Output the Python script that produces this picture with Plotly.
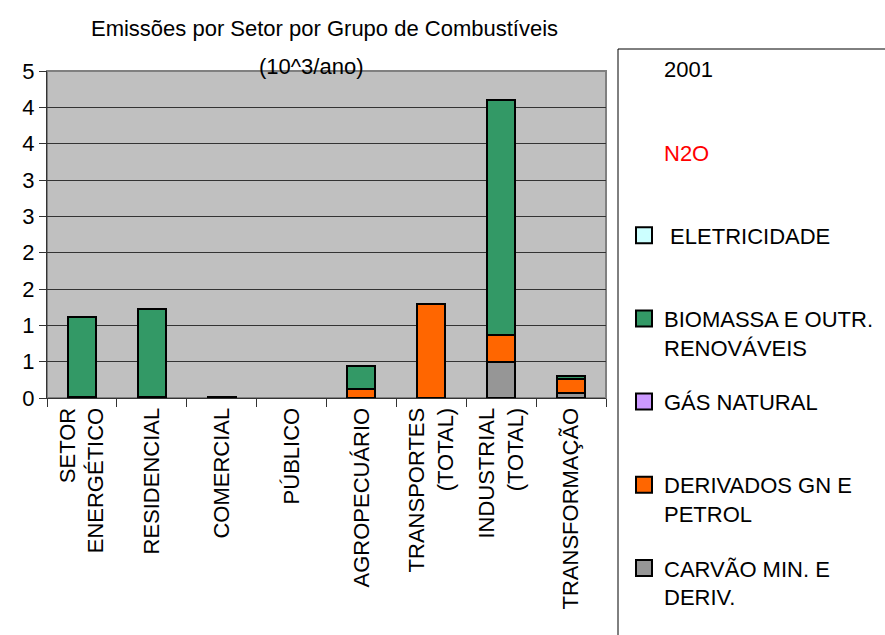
import plotly.graph_objects as go

categories = ["SETOR<br>ENERGÉTICO", "RESIDENCIAL", "COMERCIAL", "PÚBLICO",
              "AGROPECUÁRIO", "TRANSPORTES<br>(TOTAL)", "INDUSTRIAL<br>(TOTAL)", "TRANSFORMAÇÃO"]

carvao = [0, 0, 0, 0, 0, 0, 0.50, 0.07]
derivados = [0.02, 0.02, 0.02, 0, 0.13, 1.29, 0.37, 0.19]
gas_natural = [0, 0, 0, 0, 0, 0, 0, 0]
biomassa = [1.10, 1.20, 0, 0, 0.31, 0, 3.23, 0.04]
eletricidade = [0, 0, 0, 0, 0, 0, 0, 0]

y_tickvals = [0, 0.5, 1, 1.5, 2, 2.5, 3, 3.5, 4, 4.5]
y_ticktext = ["0", "1", "1", "2", "2", "3", "3", "4", "4", "5"]

# (legend label, values, colour, legend rank)
series = [
    ("CARVÃO MIN. E<br>DERIV.", carvao, "#969696", 7),
    ("DERIVADOS GN E<br>PETROL", derivados, "#FF6600", 6),
    ("GÁS NATURAL<br> ", gas_natural, "#CC99FF", 5),
    ("BIOMASSA E OUTR.<br>RENOVÁVEIS", biomassa, "#339966", 4),
    ("\u00a0ELETRICIDADE<br> ", eletricidade, "#CCFFFF", 3),
]

FONT = "Liberation Sans, Arial, sans-serif"

fig = go.Figure()
for i, (name, vals, col, rank) in enumerate(series):
    fig.add_trace(go.Bar(
        x=categories, y=[v if v else None for v in vals], name=name,
        legendgroup="g%d" % i, showlegend=False,
        marker=dict(color=col, line=dict(color="black", width=2)),
    ))
    # legend proxy with a larger square swatch
    fig.add_trace(go.Scatter(
        x=[None], y=[None], mode="markers", name=name,
        legendgroup="g%d" % i, legendrank=rank, showlegend=True,
        marker=dict(symbol="square", size=16, color=col,
                    line=dict(color="black", width=2)),
    ))

# text-only legend entries
for j, (name, rank) in enumerate([('<span style="color:red">N2O</span><br> ', 2),
                                  ("2001<br> ", 1)]):
    fig.add_trace(go.Scatter(
        x=[None], y=[None], mode="markers", name=name,
        legendgroup="t%d" % j, legendrank=rank, showlegend=True,
        marker=dict(color="rgba(0,0,0,0)", size=16, line=dict(width=0)),
    ))

L, R, T, B = 47, 606, 71, 398
W, H = 885, 635
pw, ph = R - L, B - T

def px_x(p):
    return (p - L) / pw

def px_y(p):
    return (B - p) / ph

fig.update_layout(
    width=W, height=H,
    margin=dict(l=L, r=W - R, t=T, b=H - B, pad=0, autoexpand=False),
    barmode="stack", bargap=0.6,
    paper_bgcolor="white", plot_bgcolor="#C0C0C0",
    font=dict(family=FONT, size=22, color="black"),
    title=dict(text="Emissões por Setor por Grupo de Combustíveis",
               x=324.5 / W, xanchor="center", y=1 - 28 / H, yanchor="middle",
               font=dict(family=FONT, size=22, color="black")),
    showlegend=True,
    legend=dict(
        x=px_x(624), xanchor="left", y=px_y(48), yanchor="top",
        traceorder="grouped", tracegroupgap=23, valign="top", maxheight=2000,
        font=dict(family=FONT, size=22, color="black"),
        bgcolor="rgba(0,0,0,0)", borderwidth=0,
    ),
    xaxis=dict(
        type="category", tickangle=-90, tickson="boundaries",
        ticks="outside", ticklen=8, tickcolor="#333333", automargin=False,
        showline=True, linecolor="#333333", linewidth=1,
        showgrid=False, tickfont=dict(family=FONT, size=22, color="black"),
    ),
    yaxis=dict(
        range=[0, 4.5], tickvals=y_tickvals, ticktext=y_ticktext, automargin=False,
        ticks="outside", ticklen=7, tickcolor="#333333",
        showline=True, linecolor="#333333", linewidth=1,
        showgrid=True, gridcolor="#333333", gridwidth=1, zeroline=False,
        tickfont=dict(family=FONT, size=22, color="black"),
    ),
    shapes=[
        dict(type="rect", xref="paper", yref="paper", x0=0, x1=1, y0=0, y1=1,
             line=dict(color="#808080", width=2), layer="below"),
        dict(type="rect", xref="paper", yref="paper",
             x0=px_x(618), x1=px_x(W + 20), y0=px_y(H + 20), y1=px_y(49),
             line=dict(color="black", width=1), fillcolor="rgba(0,0,0,0)"),
    ],
    annotations=[
        dict(text="(10^3/ano)", xref="paper", yref="paper",
             x=px_x(311), y=px_y(66), xanchor="center", yanchor="middle",
             showarrow=False, font=dict(family=FONT, size=22, color="black")),
    ],
)

fig.write_html("out.html", config={"displayModeBar": False},
               post_script="document.body.style.margin='0';")
